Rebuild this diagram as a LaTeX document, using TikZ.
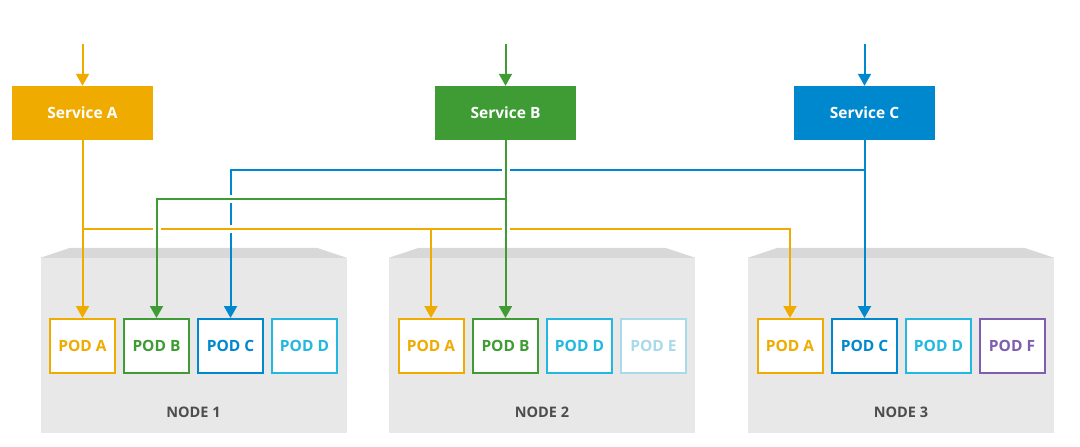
\documentclass[tikz,border=0pt]{standalone}
\usepackage{fontspec}
\setmainfont{Open Sans}
\usetikzlibrary{arrows.meta}
\definecolor{cOr}{HTML}{F0AB00}
\definecolor{cGr}{HTML}{3F9C35}
\definecolor{cBl}{HTML}{0088CE}
\definecolor{cCy}{HTML}{22B8E0}
\definecolor{cLb}{HTML}{A9DAEA}
\definecolor{cPu}{HTML}{7E5EAE}
\definecolor{cBody}{HTML}{E8E8E8}
\definecolor{cLid}{HTML}{D8D8D8}
\definecolor{cTxt}{HTML}{4D4D4D}
\begin{document}
\begin{tikzpicture}[x=1pt,y=-1pt,
  svc/.style={fill=#1, minimum width=141pt, minimum height=54pt, inner sep=0pt, text=white, font=\bfseries\fontsize{15.5}{17}\selectfont},
  pod/.style={draw=#1, fill=white, line width=2pt, minimum width=65pt, minimum height=54pt, inner sep=0pt, text=#1, font=\bfseries\fontsize{15.5}{17}\selectfont},
  hostbox/.style={fill=cBody, minimum width=306pt, minimum height=175pt, inner sep=0pt},
  hostlbl/.style={text=cTxt, font=\bfseries\fontsize{14.5}{16}\selectfont},
  ln/.style={draw=#1, line width=2pt},
  tip/.style={-{Triangle[width=13pt,length=12pt]}},
  halo/.style={draw=white, line width=8pt}
]
\useasboundingbox (0,0) rectangle (1080,447);

% hosts
\foreach \n/\x in {1/193.5,2/542,3/901}{
  \node[hostbox] (node\n) at (\x,345.5) {};
  \fill[cLid] (node\n.north west) -- ([xshift=30pt,yshift=10pt]node\n.north west)
     -- ([xshift=-30pt,yshift=10pt]node\n.north east) -- (node\n.north east) -- cycle;
  \node[hostlbl] (node\n lbl) at (\x,412) {NODE \n};
}

% pods
\node[pod=cOr] (n1a) at (82.5,346) {POD A};
\node[pod=cGr] (n1b) at (156.5,346) {POD B};
\node[pod=cBl] (n1c) at (230.5,346) {POD C};
\node[pod=cCy] (n1d) at (304.5,346) {POD D};
\node[pod=cOr] (n2a) at (431,346) {POD A};
\node[pod=cGr] (n2b) at (505.5,346) {POD B};
\node[pod=cCy] (n2d) at (579.5,346) {POD D};
\node[pod=cLb] (n2e) at (653.5,346) {POD E};
\node[pod=cOr] (n3a) at (790,346) {POD A};
\node[pod=cBl] (n3c) at (864.5,346) {POD C};
\node[pod=cCy] (n3d) at (938.5,346) {POD D};
\node[pod=cPu] (n3f) at (1012,346) {POD F};

% services
\node[svc=cOr] (sA) at (82.5,113) {Service A};
\node[svc=cGr] (sB) at (505.5,113) {Service B};
\node[svc=cBl] (sC) at (864.5,113) {Service C};

\coordinate (inA) at (82.5,44);
\coordinate (inB) at (505.5,44);
\coordinate (inC) at (864.5,44);
\coordinate (jA) at (82.5,229);
\coordinate (jB) at (505.5,199);
\coordinate (jC) at (864.5,170);

% incoming
\draw[ln=cOr,tip] (inA) -- (sA);
\draw[ln=cGr,tip] (inB) -- (sB);
\draw[ln=cBl,tip] (inC) -- (sC);

% blue
\draw[ln=cBl,tip] (sC) -- (n3c);
\draw[ln=cBl,tip] (jC) -| (n1c.north);

% orange
\begin{scope}
  \clip (0,0) rectangle (1080,244);
  \draw[halo] (jA) -- (jA -| n3a);
\end{scope}
\draw[ln=cOr,tip] (sA) -- (n1a);
\draw[ln=cOr,tip] (jA) -| (n3a.north);
\draw[ln=cOr,tip] (jA -| n2a) -- (n2a.north);

% green
\begin{scope}
  \clip (0,0) rectangle (1080,244);
  \draw[halo] (sB.south) -- (n2b.north);
  \draw[halo] (jB) -| (n1b.north);
\end{scope}
\draw[ln=cGr,tip] (sB) -- (n2b);
\draw[ln=cGr,tip] (jB) -| (n1b.north);

% redraw services above halos
\node[svc=cOr] at (sA) {Service A};
\node[svc=cGr] at (sB) {Service B};
\node[svc=cBl] at (sC) {Service C};
\end{tikzpicture}
\end{document}
